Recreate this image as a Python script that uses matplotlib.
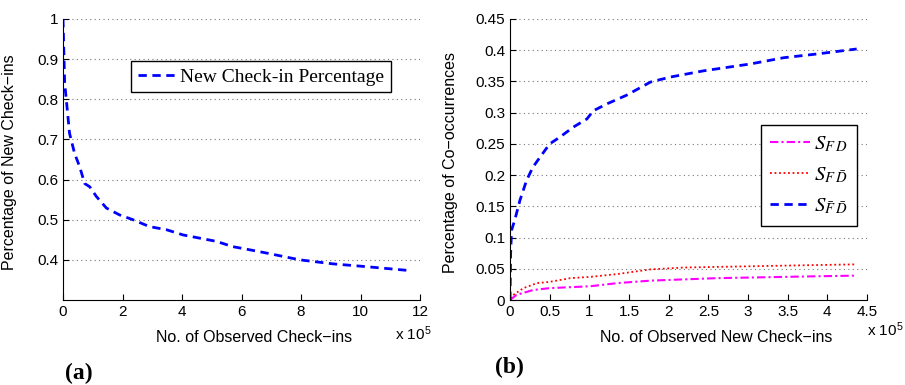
import matplotlib
matplotlib.use("Agg")
import matplotlib.pyplot as plt

plt.rcParams['font.family'] = ['Liberation Sans', 'DejaVu Sans']
plt.rcParams['mathtext.fontset'] = 'stix'

# (a) new check-in percentage, x in units of 1e5
obs_x = [0, 0.056, 0.11, 0.22, 0.39, 0.56, 0.73, 0.9, 1.12, 1.46, 1.9, 2.35, 2.9,
         3.48, 4.04, 4.6, 5.16, 5.7, 6.28, 6.84, 7.96, 9.08, 10.2, 11.7]
new_pct = [1.0, 0.84, 0.80, 0.715, 0.665, 0.632, 0.59, 0.582, 0.558, 0.529, 0.512,
           0.50, 0.483, 0.475, 0.462, 0.454, 0.446, 0.433, 0.425, 0.417, 0.40,
           0.39, 0.383, 0.373]

# (b) co-occurrence percentages, x in units of 1e5
blue_x = [0, 0.008, 0.02, 0.06, 0.126, 0.21, 0.29, 0.38, 0.50, 0.63, 0.80, 0.97,
          1.05, 1.22, 1.47, 1.77, 2.02, 2.44, 3.03, 3.45, 3.87, 4.37]
s_fbdb = [0, 0.075, 0.112, 0.128, 0.16, 0.192, 0.213, 0.229, 0.25, 0.261, 0.277,
          0.29, 0.303, 0.314, 0.328, 0.349, 0.357, 0.367, 0.378, 0.388, 0.394, 0.402]
red_x = [0, 0.04, 0.17, 0.34, 0.5, 0.76, 1.01, 1.35, 1.77, 2.19, 2.61, 3.03, 3.45,
         3.87, 4.35]
s_fdb = [0.003, 0.008, 0.019, 0.027, 0.029, 0.035, 0.037, 0.0415, 0.049, 0.052,
         0.053, 0.054, 0.055, 0.056, 0.057]
mag_x = [0, 0.08, 0.29, 0.5, 1.01, 1.35, 1.77, 2.19, 2.61, 3.03, 3.45, 3.87, 4.35]
s_fd = [0, 0.008, 0.016, 0.019, 0.022, 0.027, 0.031, 0.033, 0.035, 0.036, 0.037,
        0.038, 0.039]

fig = plt.figure(figsize=(9.05, 3.85), dpi=100)
ax1 = fig.add_axes([63/905, 1-300/385, 357/905, 281/385])
ax2 = fig.add_axes([510/905, 1-300/385, 357/905, 281/385])

legfont = {'family': 'Liberation Serif', 'size': 14}


def style(ax):
    for s in ['top', 'right']:
        ax.spines[s].set_visible(False)
    ax.tick_params(direction='in', labelsize=11, length=4)
    ax.yaxis.grid(True, linestyle=(0, (1, 3)), color='#777777', linewidth=0.8)
    ax.set_axisbelow(True)


# ---- (a)
ax1.plot(obs_x, new_pct, color='blue', linestyle=(0, (3, 2)), linewidth=2,
         label='New Check-in Percentage')
ax1.set_xlim(0, 12)
ax1.set_ylim(0.3, 1.0)
ax1.set_xticks(range(0, 13, 2))
ax1.set_yticks([0.4, 0.5, 0.6, 0.7, 0.8, 0.9, 1.0])
ax1.set_yticklabels(['0.4', '0.5', '0.6', '0.7', '0.8', '0.9', '1'])
style(ax1)
ax1.set_ylabel('Percentage of New Check\u2212ins', fontsize=11.5)
ax1.yaxis.set_label_coords(-0.13, 0.49)
ax1.set_xlabel('No. of Observed Check\u2212ins', fontsize=11.5)
ax1.xaxis.set_label_coords(0.536, -0.105)
ax1.text(395/905, 1-340/385, 'x 10$^{\\mathregular{5}}$', transform=fig.transFigure,
         fontsize=11, va='baseline')
ax1.legend(loc='upper left', bbox_to_anchor=(0.19, 0.85), prop=legfont,
           fancybox=False, edgecolor='black', framealpha=1, handlelength=2.0,
           handletextpad=0.2, borderpad=0.35, borderaxespad=0)
fig.text(65/905, 1-373/385, '(a)', fontsize=17, fontweight='bold',
         family='Liberation Serif', va='center')

# ---- (b)
ax2.plot(mag_x, s_fd, color='magenta', linestyle=(0, (4, 1.5, 1, 1.5)), linewidth=1.5,
         label=r'$S_{F\,D}$')
ax2.plot(red_x, s_fdb, color='red', linestyle=(0, (1, 1.5)), linewidth=1.3,
         label=r'$S_{F\,\bar{D}}$')
ax2.plot(blue_x, s_fbdb, color='blue', linestyle=(0, (3, 2)), linewidth=2,
         label=r'$S_{\bar{F}\,\bar{D}}$')
ax2.set_xlim(0, 4.5)
ax2.set_ylim(0, 0.45)
ax2.set_xticks([0, 0.5, 1, 1.5, 2, 2.5, 3, 3.5, 4, 4.5])
ax2.set_xticklabels(['0', '0.5', '1', '1.5', '2', '2.5', '3', '3.5', '4', '4.5'])
ax2.set_yticks([0, 0.05, 0.1, 0.15, 0.2, 0.25, 0.3, 0.35, 0.4, 0.45])
ax2.set_yticklabels(['0', '0.05', '0.1', '0.15', '0.2', '0.25', '0.3', '0.35', '0.4', '0.45'])
style(ax2)
ax2.set_ylabel('Percentage of Co\u2212occurrences', fontsize=11.5)
ax2.yaxis.set_label_coords(-0.145, 0.49)
ax2.set_xlabel('No. of Observed New Check\u2212ins', fontsize=11.5)
ax2.xaxis.set_label_coords(0.578, -0.105)
ax2.text(867/905, 1-336/385, 'x 10$^{\\mathregular{5}}$', transform=fig.transFigure,
         fontsize=11, va='baseline')
ax2.legend(loc='upper left', bbox_to_anchor=(0.703, 0.623), prop={'size': 15},
           fancybox=False, edgecolor='black', framealpha=1, handlelength=1.9,
           handletextpad=0.2, borderpad=0.45, labelspacing=0.55, borderaxespad=0)
fig.text(495/905, 1-367/385, '(b)', fontsize=17, fontweight='bold',
         family='Liberation Serif', va='center')

fig.savefig('out.png', dpi=100)
